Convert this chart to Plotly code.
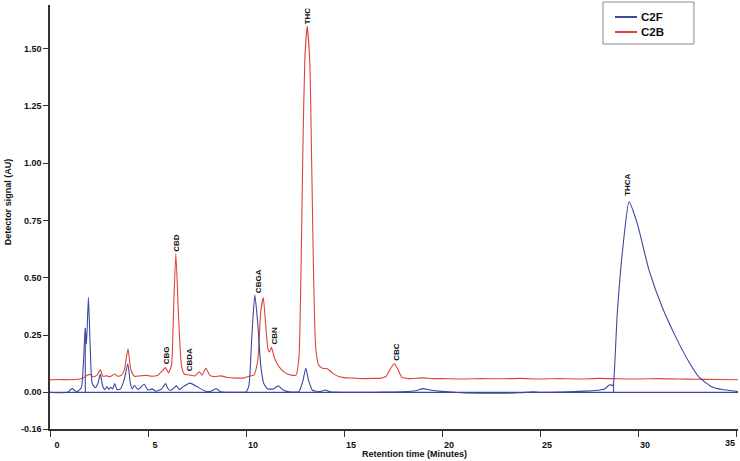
import plotly.graph_objects as go

# C2B (red) trace: retention time (min), signal (AU)
c2b_time = [0.0, 0.5, 1.0, 1.5, 1.7, 1.9, 2.05, 2.2, 2.4, 2.57, 2.7, 2.9, 3.05, 3.3, 3.45,
            3.65, 3.8, 3.98, 4.12, 4.3, 4.6, 4.9, 5.2, 5.5, 5.75, 5.89, 6.05, 6.2, 6.3, 6.42,
            6.55, 6.7, 6.85, 7.15, 7.4, 7.62, 7.75, 7.96, 8.15, 8.4, 8.72, 9.0, 9.5, 9.9, 10.15,
            10.4, 10.6, 10.75, 10.88, 11.0, 11.12, 11.2, 11.3, 11.45, 11.7, 12.0, 12.3, 12.55,
            12.7, 12.8, 12.9, 13.0, 13.12, 13.25, 13.35, 13.45, 13.55, 13.7, 13.9, 14.15, 14.4,
            14.7, 15.0, 15.5, 16.0, 16.5, 16.9, 17.15, 17.35, 17.56, 17.75, 17.95, 18.3, 19.0,
            19.5, 20.0, 21.0, 22.0, 23.0, 24.0, 25.0, 26.0, 27.0, 28.0, 29.0, 30.0, 31.0, 32.0,
            33.0, 34.0, 35.1]
c2b_signal = [0.055, 0.056, 0.055, 0.058, 0.062, 0.075, 0.078, 0.068, 0.075, 0.098, 0.07, 0.072,
              0.068, 0.08, 0.07, 0.075, 0.1, 0.19, 0.1, 0.07, 0.072, 0.074, 0.07, 0.075, 0.095,
              0.108, 0.085, 0.12, 0.35, 0.605, 0.35, 0.12, 0.08, 0.075, 0.072, 0.09, 0.075, 0.105,
              0.075, 0.068, 0.072, 0.066, 0.062, 0.063, 0.07, 0.075, 0.14, 0.35, 0.413, 0.3, 0.19,
              0.176, 0.197, 0.15, 0.11, 0.085, 0.075, 0.075, 0.15, 0.5, 1.05, 1.45, 1.598, 1.45,
              1.0, 0.5, 0.2, 0.12, 0.105, 0.103, 0.085, 0.07, 0.064, 0.062, 0.06, 0.061, 0.062,
              0.07, 0.1, 0.125, 0.1, 0.065, 0.06, 0.063, 0.06, 0.06, 0.058, 0.06, 0.059, 0.061,
              0.058, 0.06, 0.058, 0.061, 0.059, 0.058, 0.06, 0.058, 0.057, 0.056, 0.055]

# C2F (blue) trace
c2f_time = [0.0, 0.9, 1.05, 1.16, 1.25, 1.4, 1.6, 1.7, 1.8, 1.86, 1.96, 2.05, 2.15, 2.3, 2.45,
            2.57, 2.68, 2.8, 2.9, 3.0, 3.1, 3.2, 3.3, 3.42, 3.6, 3.8, 3.97, 4.1, 4.2, 4.3, 4.5,
            4.8, 5.0, 5.2, 5.4, 5.7, 5.89, 6.05, 6.2, 6.45, 6.6, 6.8, 7.15, 7.5, 7.9, 8.2, 8.47,
            8.7, 9.0, 9.5, 10.0, 10.15, 10.3, 10.45, 10.6, 10.75, 10.9, 11.1, 11.4, 11.65, 11.9,
            12.2, 12.7, 12.9, 13.05, 13.2, 13.4, 13.8, 14.05, 14.3, 15.0, 16.0, 17.0, 18.0, 18.7,
            19.0, 19.4, 20.0, 21.0, 22.0, 23.0, 24.0, 24.6, 25.0, 26.0, 27.0, 27.8, 28.3, 28.55,
            28.7, 28.75, 28.94, 29.23, 29.54, 29.96, 30.56, 31.23, 31.92, 32.6, 33.1, 33.78,
            34.3, 34.63, 35.1]
c2f_signal = [0.0, 0.0, 0.012, 0.016, 0.008, 0.004, 0.02, 0.12, 0.28, 0.21, 0.415, 0.2, 0.04,
              0.02, 0.04, 0.08, 0.03, 0.012, 0.025, 0.012, 0.022, 0.015, 0.038, 0.012, 0.015,
              0.06, 0.125, 0.04, 0.015, 0.03, 0.012, 0.035, 0.01, 0.015, 0.005, 0.015, 0.038,
              0.012, 0.01, 0.028, 0.012, 0.025, 0.04, 0.025, 0.006, 0.004, 0.017, 0.003, 0.0,
              0.0, 0.002, 0.03, 0.25, 0.425, 0.3, 0.12, 0.04, 0.015, 0.015, 0.028, 0.01, 0.002,
              0.003, 0.05, 0.105, 0.05, 0.008, 0.004, 0.01, 0.002, 0.0, 0.0, 0.001, 0.002, 0.008,
              0.016, 0.01, 0.004, -0.002, -0.004, -0.004, -0.002, 0.002, 0.0, 0.001, 0.004,
              0.008, 0.015, 0.033, 0.03, 0.04, 0.345, 0.635, 0.831, 0.737, 0.533, 0.372, 0.242,
              0.132, 0.067, 0.023, 0.012, 0.009, 0.003]

# integration baseline and drop lines on the C2F trace
base_time = [0.0, 35.1, None, 1.8, 1.8, None, 28.75, 28.75]
base_signal = [0.0, 0.0, None, 0.0, 0.28, None, 0.0, 0.04]

# peak names
peak_names = ["CBG", "CBD", "CBDA", "CBGA", "CBN", "THC", "CBC", "THCA"]
peak_times = [5.92, 6.45, 7.16, 10.63, 11.44, 13.12, 17.64, 29.49]
peak_tops = [0.118, 0.611, 0.087, 0.43, 0.205, 1.6, 0.132, 0.853]

y_ticks = [-0.16, 0.0, 0.25, 0.5, 0.75, 1.0, 1.25, 1.5]
y_ticktext = ["-0.16", "0.00", "0.25", "0.50", "0.75", "1.00", "1.25", "1.50"]
x_ticks = [0, 5, 10, 15, 20, 25, 30, 35]
# last label is squeezed in at the right edge, drawn separately below
x_ticktext = ["0", "5", "10", "15", "20", "25", "30", ""]

series_names = ["C2F", "C2B"]

blue = "#3d479e"
red = "#e0413c"
font_name = "Liberation Sans, Arial, sans-serif"
tick_font = dict(family=font_name, size=9, color="#111", weight="bold")

fig = go.Figure()
fig.add_trace(go.Scatter(x=base_time, y=base_signal, mode="lines", showlegend=False,
                         line=dict(color=blue, width=1.1), hoverinfo="skip"))
fig.add_trace(go.Scatter(x=c2b_time, y=c2b_signal, mode="lines", name="C2B", showlegend=False,
                         line=dict(color=red, width=1.1, shape="spline", smoothing=0.5)))
fig.add_trace(go.Scatter(x=c2f_time, y=c2f_signal, mode="lines", name="C2F", showlegend=False,
                         line=dict(color=blue, width=1.1, shape="spline", smoothing=0.5)))

for name, t, top in zip(peak_names, peak_times, peak_tops):
    fig.add_annotation(x=t, y=top, text=name, showarrow=False, textangle=-90,
                       xanchor="center", yanchor="bottom", borderpad=0,
                       font=dict(family=font_name, size=8, color="#111", weight="bold"))

fig.add_annotation(x=x_ticks[-1], xref="x", yref="paper", y=-0.02, text="35", showarrow=False,
                   xanchor="right", yanchor="top", borderpad=0, font=tick_font)

# axis titles placed as annotations (off centre in the original)
fig.add_annotation(xref="paper", yref="paper", x=-0.061, y=0.535, text="Detector signal (AU)",
                   showarrow=False, textangle=-90, xanchor="center", yanchor="middle",
                   font=dict(family=font_name, size=9, color="#111", weight="bold"))
fig.add_annotation(xref="paper", yref="paper", x=0.5305, y=-0.058, text="Retention time (Minutes)",
                   showarrow=False, xanchor="center", yanchor="middle",
                   font=dict(family=font_name, size=9, color="#111", weight="bold"))

# legend box drawn by hand, the built-in one spaces the rows too far apart
fig.add_shape(type="rect", xref="paper", yref="paper", x0=0.8038, x1=0.936, y0=0.908, y1=1.007,
              line=dict(color="#8a8a8a", width=1), fillcolor="white", layer="above")
for i, (name, color) in enumerate(zip(series_names, [blue, red])):
    ly = 0.9717 - i * 0.0354
    fig.add_shape(type="line", xref="paper", yref="paper", x0=0.8212, x1=0.8532, y0=ly, y1=ly,
                  line=dict(color=color, width=2), layer="above")
    fig.add_annotation(xref="paper", yref="paper", x=0.858, y=ly, text=name, showarrow=False,
                       xanchor="left", yanchor="middle", borderpad=0,
                       font=dict(family=font_name, size=11.5, color="#111", weight="bold"))

fig.update_layout(
    width=740, height=461,
    margin=dict(l=50, r=2, t=5, b=32, autoexpand=False),
    paper_bgcolor="white", plot_bgcolor="white",
    font=dict(family=font_name, color="#111"),
    showlegend=False,
    xaxis=dict(range=[0, 35.1], tickvals=x_ticks, ticktext=x_ticktext, showgrid=False,
               zeroline=False, showline=True, linecolor="#333", linewidth=1.5, ticks="outside",
               ticklen=6, tickcolor="#333", ticklabelshift=7, tickfont=tick_font),
    yaxis=dict(range=[-0.16, 1.69], tickvals=y_ticks, ticktext=y_ticktext, showgrid=False,
               zeroline=False, showline=True, linecolor="#333", linewidth=1.5, ticks="outside",
               ticklen=5, tickcolor="#333", tickfont=tick_font),
)

# the page body has a default 8px margin; drop it so the figure sits at the corner
fig.write_html("out.html", config={"displayModeBar": False},
               post_script="document.body.style.margin='0';")
